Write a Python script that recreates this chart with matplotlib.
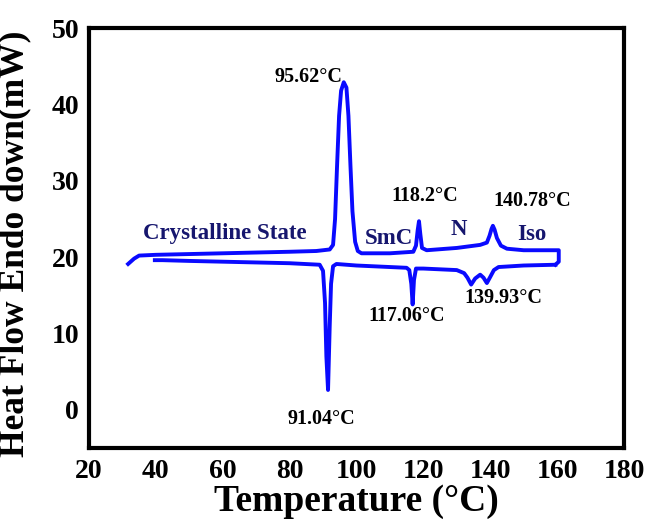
import matplotlib
matplotlib.use("Agg")
import matplotlib.pyplot as plt

plt.rcParams["font.family"] = ["Liberation Serif", "DejaVu Serif"]
plt.rcParams["font.weight"] = "bold"

# heating run (endotherm up)
heat_t = [31.7, 33.5, 35, 40, 50, 60, 70, 80, 88, 92, 93, 93.6, 94.2, 94.8, 95.4, 96.2,
          97.0, 97.6, 98.2, 98.8, 99.6, 100.4, 101.5, 110, 117.0, 117.8, 118.3, 118.7,
          119.1, 119.6, 121, 130, 137, 139.0, 139.8, 140.4, 140.8, 141.3, 142.0,
          143.2, 145, 150, 160.5, 160.5, 159.5]
heat_q = [19.1, 19.8, 20.2, 20.3, 20.4, 20.5, 20.6, 20.7, 20.8, 21.0, 21.6, 25, 32, 38.5,
          41.8, 42.9, 42.2, 38.5, 32, 26, 22, 20.8, 20.5, 20.5, 20.7, 21.5, 23.5, 24.7,
          23.0, 21.2, 20.9, 21.2, 21.6, 21.9, 22.8, 23.7, 24.1, 23.6, 22.5,
          21.5, 21.1, 20.9, 20.9, 19.4, 19.0]

# cooling run, right to left
cool_t = [159.5, 150, 142.5, 141.1, 140.0, 139.0, 138.0, 137.0, 135.5, 134.3, 133.2,
          132.2, 130, 120, 117.8, 117.2, 116.8, 116.4, 115.8, 115, 100, 94, 93.0,
          92.4, 92.0, 91.5, 91.0, 90.6, 90.0, 89, 80, 60, 50, 42, 39.7]
cool_q = [19.0, 18.9, 18.7, 18.3, 17.4, 16.6, 17.3, 17.7, 17.2, 16.4, 17.3,
          17.9, 18.3, 18.5, 18.5, 17.0, 13.8, 16.5, 18.3, 18.6, 18.9, 19.1, 18.8,
          16.5, 11, 2.6, 7, 14, 18.2, 19.0, 19.2, 19.4, 19.5, 19.6, 19.6]

peak_labels = ["95.62°C", "118.2°C", "140.78°C", "117.06°C", "139.93°C", "91.04°C"]
peak_x = [85.8, 120.5, 152.5, 115.1, 143.8, 89.4]
peak_y = [43.6, 28.0, 27.4, 12.3, 14.7, -1.2]

phase_labels = ["Crystalline State", "SmC", "N", "Iso"]
phase_x = [60.7, 109.7, 130.6, 152.5]
phase_y = [23.1, 22.4, 23.6, 22.9]

fig = plt.figure(figsize=(6.48, 5.23), dpi=100)
ax = fig.add_axes([0.1373, 0.1434, 0.8256, 0.803])

ax.plot(heat_t, heat_q, color="#0a0aff", lw=2.8, solid_joinstyle="round")
ax.plot(cool_t, cool_q, color="#0a0aff", lw=2.8, solid_joinstyle="round")

for s, x, y in zip(peak_labels, peak_x, peak_y):
    ax.text(x, y, s, ha="center", va="center", fontsize=14.5, fontweight="bold", color="black")
for s, x, y in zip(phase_labels, phase_x, phase_y):
    ax.text(x, y, s, ha="center", va="center", fontsize=16.5, fontweight="bold", color="#16166e")

ax.set_xlim(20, 180)
ax.set_ylim(-5, 50)
ax.set_xticks(range(20, 181, 20))
ax.set_yticks(range(0, 51, 10))
ax.tick_params(length=0, labelsize=20)
ax.tick_params(axis="x", pad=8)
ax.tick_params(axis="y", pad=7)
for lab in ax.get_xticklabels() + ax.get_yticklabels():
    lab.set_fontweight("bold")
for sp in ax.spines.values():
    sp.set_linewidth(3)

ax.set_xlabel("Temperature (°C)", fontsize=27, fontweight="bold", labelpad=0)
ax.set_ylabel("Heat Flow Endo down(mW)", fontsize=25.5, fontweight="bold")
ax.yaxis.set_label_coords(-0.107, 0.487)

fig.savefig("out.png", dpi=100)
